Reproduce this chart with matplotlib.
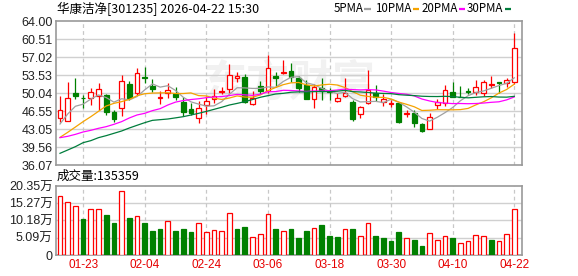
import matplotlib
matplotlib.use("Agg")
import matplotlib.pyplot as plt
from matplotlib.patches import Rectangle
from matplotlib.lines import Line2D

# ---- data (prices in 元, volume in 万手) ----
dates = ["01-20", "01-21", "01-22", "01-23", "01-26", "01-27", "01-28", "01-29", "01-30", "02-02",
         "02-03", "02-04", "02-05", "02-06", "02-09", "02-10", "02-11", "02-12", "02-13", "02-24",
         "02-25", "02-26", "02-27", "03-02", "03-03", "03-04", "03-05", "03-06", "03-09", "03-10",
         "03-11", "03-12", "03-13", "03-16", "03-17", "03-18", "03-19", "03-20", "03-23", "03-24",
         "03-25", "03-26", "03-27", "03-30", "03-31", "04-01", "04-02", "04-03", "04-07", "04-08",
         "04-09", "04-10", "04-13", "04-14", "04-15", "04-16", "04-17", "04-20", "04-21", "04-22"]

opens = [45.16, 44.65, 50.00, 49.10, 49.03, 49.55, 49.74, 46.32, 47.10, 51.74,
         50.13, 53.10, 51.48, 49.10, 50.06, 49.81, 48.39, 46.90, 45.16, 47.68,
         48.84, 50.32, 50.77, 53.05, 53.10, 47.87, 51.42, 50.45, 53.35, 53.94,
         54.32, 53.03, 51.55, 48.84, 50.97, 50.45, 48.58, 49.48, 48.26, 45.94,
         48.06, 50.00, 48.39, 47.94, 48.06, 45.94, 46.13, 44.00, 43.03, 47.68,
         48.06, 50.26, 49.35, 50.45, 50.32, 50.00, 51.68, 52.26, 51.94, 52.26]
highs = [49.48, 52.19, 52.90, 49.68, 50.97, 52.06, 49.87, 46.77, 53.55, 52.39,
         54.84, 55.16, 52.71, 50.45, 51.94, 51.29, 49.23, 48.19, 48.52, 49.48,
         50.77, 51.29, 55.68, 54.19, 53.74, 50.45, 52.39, 57.42, 54.06, 56.45,
         55.94, 53.35, 52.58, 51.74, 52.90, 51.10, 50.00, 52.90, 48.71, 47.61,
         54.52, 51.61, 49.81, 48.71, 48.19, 46.77, 46.77, 44.19, 46.13, 48.84,
         51.61, 52.26, 51.42, 51.10, 52.58, 52.58, 53.35, 52.26, 52.90, 61.74]
lows = [44.52, 44.55, 48.84, 47.10, 47.74, 46.77, 45.81, 44.52, 45.61, 48.71,
        49.68, 51.94, 50.19, 47.87, 49.16, 48.71, 45.68, 45.81, 44.19, 46.00,
        48.06, 49.81, 50.00, 52.13, 48.19, 47.80, 49.81, 50.13, 51.29, 53.74,
        52.26, 50.32, 48.85, 47.10, 48.71, 48.71, 48.39, 49.35, 44.71, 45.16,
        48.00, 48.52, 47.61, 47.42, 44.19, 45.48, 43.55, 42.58, 43.00, 46.90,
        47.55, 49.20, 49.20, 49.81, 49.68, 49.48, 50.97, 50.00, 51.29, 51.81]
closes = [46.77, 49.03, 49.48, 49.00, 50.19, 50.77, 46.45, 45.03, 52.32, 49.16,
          53.87, 52.97, 50.77, 49.23, 50.58, 49.23, 46.45, 46.26, 47.10, 48.52,
          49.55, 50.45, 53.48, 53.40, 48.39, 49.03, 50.52, 54.84, 53.03, 54.06,
          53.10, 51.10, 48.90, 51.16, 50.52, 50.35, 49.03, 50.00, 44.97, 47.29,
          50.65, 49.29, 48.90, 48.06, 44.52, 46.13, 44.19, 42.77, 45.48, 48.26,
          50.58, 49.23, 49.28, 50.35, 51.29, 52.13, 51.81, 51.94, 52.52, 58.71]

ma5 = [44.06, 46.00, 47.50, 47.90, 48.89, 49.69, 49.18, 48.29, 48.95, 48.75,
       49.37, 50.67, 51.82, 51.20, 51.48, 50.56, 49.25, 48.35, 47.92, 47.51,
       47.58, 48.38, 49.82, 51.08, 51.05, 50.95, 50.96, 51.24, 51.16, 52.30,
       53.11, 53.23, 52.04, 51.66, 50.96, 50.41, 49.99, 50.21, 48.97, 48.33,
       48.39, 48.44, 48.22, 48.84, 48.28, 47.38, 46.36, 45.13, 44.62, 45.37,
       46.26, 47.26, 48.57, 49.54, 50.15, 50.46, 50.97, 51.50, 51.94, 53.00]
ma10 = [41.48, 42.45, 43.48, 44.52, 45.48, 46.52, 47.55, 48.06, 48.39, 48.82,
        49.53, 49.92, 50.05, 50.08, 50.12, 49.96, 49.96, 50.08, 49.56, 49.50,
        49.07, 48.81, 49.09, 49.50, 49.28, 49.26, 49.67, 50.53, 51.12, 51.68,
        52.03, 52.10, 51.64, 51.41, 51.63, 51.76, 51.61, 51.13, 50.32, 49.64,
        49.40, 49.22, 49.22, 48.91, 48.31, 47.88, 47.40, 46.68, 46.73, 46.83,
        46.82, 46.81, 46.85, 47.08, 47.76, 48.36, 49.12, 50.04, 50.74, 51.78]
ma20 = [41.42, 41.68, 42.06, 42.52, 42.84, 43.23, 43.55, 44.00, 44.52, 45.23,
        45.81, 46.13, 46.65, 47.03, 47.74, 48.30, 48.60, 48.80, 48.95, 49.16,
        49.30, 49.37, 49.57, 49.79, 49.70, 49.61, 49.82, 50.31, 50.34, 50.59,
        50.55, 50.45, 50.36, 50.46, 50.45, 50.51, 50.64, 50.83, 50.72, 50.66,
        50.71, 50.66, 50.43, 50.16, 49.97, 49.82, 49.50, 48.90, 48.52, 48.23,
        48.11, 48.01, 48.03, 47.99, 48.03, 48.12, 48.26, 48.36, 48.73, 49.30]
ma30 = [38.39, 39.03, 39.68, 40.45, 40.84, 41.42, 41.81, 42.26, 42.71, 43.29,
        43.81, 44.32, 44.77, 44.90, 45.03, 45.25, 45.48, 45.80, 46.13, 46.50,
        46.90, 47.30, 47.74, 48.05, 48.39, 48.80, 49.23, 49.55, 49.87, 50.00,
        50.21, 50.28, 50.26, 50.33, 50.34, 50.33, 50.41, 50.58, 50.33, 50.27,
        50.16, 50.04, 49.98, 49.94, 49.74, 49.64, 49.56, 49.44, 49.39, 49.38,
        49.42, 49.37, 49.23, 49.13, 49.23, 49.33, 49.38, 49.28, 49.26, 49.42]

volumes = [17.40, 15.54, 14.36, 10.62, 13.51, 13.51, 11.80, 9.44, 18.78, 10.91,
           11.41, 9.44, 7.08, 7.67, 9.93, 7.08, 7.67, 6.78, 9.34, 6.68,
           7.27, 6.98, 12.29, 7.67, 8.26, 5.21, 6.09, 11.99, 7.67, 6.98,
           7.67, 5.01, 7.08, 7.87, 8.85, 5.60, 5.31, 7.58, 7.67, 5.51,
           9.35, 5.60, 5.01, 4.13, 6.78, 4.92, 4.42, 2.65, 6.40, 4.33,
           5.51, 5.01, 3.45, 4.04, 5.81, 5.51, 4.42, 4.04, 6.10, 13.54]
vol_up = [1, 1, 1, 0, 1, 1, 0, 0, 1, 0, 1, 0, 0, 0, 1, 0, 0, 0, 1, 1,
          1, 1, 1, 0, 0, 1, 1, 1, 0, 1, 0, 0, 0, 1, 0, 0, 0, 1, 0, 1,
          1, 0, 0, 0, 0, 1, 0, 0, 1, 1, 1, 0, 1, 1, 1, 1, 0, 1, 1, 1]
last_volume = 135359

price_ticks = [36.07, 39.56, 43.05, 46.55, 50.04, 53.53, 57.02, 60.51, 64.00]
vol_ticks = [0, 5.09, 10.18, 15.27, 20.35]
title = "华康洁净[301235] 2026-04-22 15:30"
ma_names = ["5PMA", "10PMA", "20PMA", "30PMA"]

# ---- styling ----
RED = "#ff0000"
GREEN = "#008000"
MA_COLORS = ["#a0a0a0", "#f5a300", "#ff00ff", "#007d3c"]
GRID = "#d0d0d0"
FRAME = "#999999"
W, H = 578, 276
cjk = ["Noto Sans CJK SC", "DejaVu Sans"]
num = ["Liberation Sans", "Noto Sans CJK SC"]


def fx(px):
    return px / W


def fy(py):
    return 1 - py / H


fig = plt.figure(figsize=(W / 100, H / 100), dpi=100)
ax = fig.add_axes([fx(56), fy(165.3), fx(522) - fx(56), fy(21) - fy(165.3)])
axv = fig.add_axes([fx(56), fy(255), fx(522) - fx(56), fy(186) - fy(255)])

n = len(closes)
xs = list(range(n))
tick_idx = list(range(3, n, 8))
bw = 0.62

# faint watermark
ax.text(0.5, 0.57, "东方财富", transform=ax.transAxes, ha="center", va="center",
        fontsize=31, color="#f1f1f1", family=cjk, fontweight="bold", zorder=0)

# candles
for i in xs:
    o, h, l, c = opens[i], highs[i], lows[i], closes[i]
    up = c >= o
    col = RED if up else GREEN
    ax.plot([i, i], [l, h], color=col, lw=0.9, zorder=2, solid_capstyle="butt")
    lo, hi = min(o, c), max(o, c)
    ax.add_patch(Rectangle((i - bw / 2, lo), bw, max(hi - lo, 0.02),
                           facecolor="white" if up else GREEN, edgecolor=col,
                           lw=0.9, zorder=3))

for vals, col in zip([ma5, ma10, ma20, ma30], MA_COLORS):
    ax.plot(xs, vals, color=col, lw=0.9, zorder=4)

# volume bars
for i in xs:
    col = RED if vol_up[i] else GREEN
    axv.add_patch(Rectangle((i - bw / 2, 0), bw, volumes[i],
                            facecolor="white" if vol_up[i] else GREEN,
                            edgecolor=col, lw=0.9, zorder=3))

for a, lim, ticks in [(ax, (price_ticks[0], price_ticks[-1]), price_ticks),
                      (axv, (vol_ticks[0], vol_ticks[-1]), vol_ticks)]:
    a.set_xlim(-0.52, 60.0)
    a.set_ylim(*lim)
    a.set_yticks(ticks)
    a.set_xticks(tick_idx)
    for s in a.spines.values():
        s.set_color(FRAME)
        s.set_linewidth(1.2)
    a.tick_params(length=0, pad=2.5)
    for t in ticks[1:-1]:
        a.axhline(t, color=GRID, lw=1, zorder=1)
    for t in tick_idx:
        a.axvline(t, color="#c8c8c8", lw=0.9, ls=(0, (3, 2.5)), zorder=1)

ax.set_xticklabels([])
ax.set_yticklabels([f"{t:.2f}" for t in price_ticks], family=num, fontsize=9, color="#222222")
axv.set_yticklabels(["0"] + [f"{t:.2f}万" for t in vol_ticks[1:]], family=num,
                    fontsize=9, color="#222222")
axv.set_xticklabels([dates[i] for i in tick_idx], family=num, fontsize=8.5, color="#e60000")
axv.tick_params(axis="x", pad=3)

# header texts
fig.text(fx(57), fy(8.5), title, family=cjk, fontsize=9, va="center", ha="left")
fig.text(fx(57), fy(176.5), f"成交量:{last_volume}", family=cjk, fontsize=9,
         va="center", ha="left")

dash_x = [364.5, 412.7, 459.0, 505.0]
for name, col, dx in zip(ma_names, MA_COLORS, dash_x):
    fig.text(fx(dx - 1.5), fy(8.8), name, family=cjk, fontsize=8.3, va="center", ha="right")
    fig.add_artist(Line2D([fx(dx), fx(dx + 6)], [fy(9), fy(9)], color=col, lw=1.6,
                          transform=fig.transFigure, solid_capstyle="butt"))

fig.savefig("out.png", dpi=100)
